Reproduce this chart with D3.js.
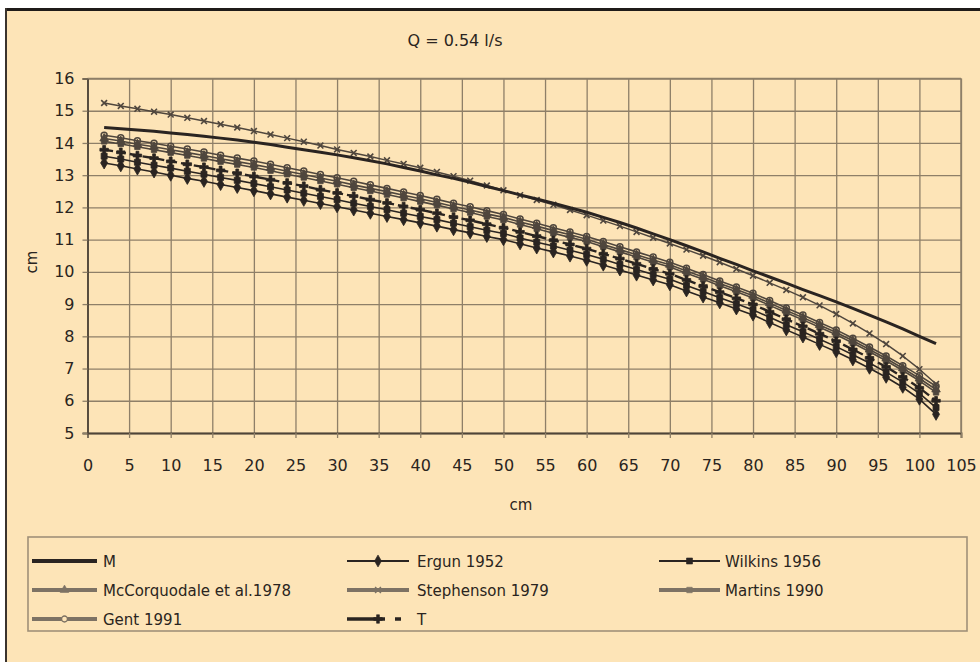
<!DOCTYPE html>
<html><head><meta charset="utf-8">
<script src="https://cdn.jsdelivr.net/npm/d3@7"></script>
<style>
body{margin:0;background:#fff;}
svg{display:block;}
text{font-family:"DejaVu Sans",sans-serif;fill:#2a2420;}
</style>
</head><body>
<svg id="chart" width="980" height="662"></svg>
<script>
// ---- data ----
const xValues = [2,4,6,8,10,12,14,16,18,20,22,24,26,28,30,32,34,36,38,40,42,44,46,48,50,52,54,56,58,60,62,64,66,68,70,72,74,76,78,80,82,84,86,88,90,92,94,96,98,100,102];
const valuesM = [14.48,14.44,14.40,14.36,14.31,14.26,14.21,14.15,14.09,14.02,13.95,13.87,13.79,13.71,13.63,13.54,13.45,13.35,13.24,13.13,13.01,12.90,12.78,12.65,12.52,12.39,12.26,12.13,11.99,11.85,11.69,11.53,11.36,11.18,11.00,10.81,10.62,10.42,10.23,10.03,9.84,9.65,9.45,9.26,9.07,8.87,8.66,8.45,8.23,8.00,7.77];
const valuesErgun = [13.38,13.29,13.19,13.10,13.00,12.90,12.81,12.71,12.62,12.52,12.42,12.32,12.22,12.12,12.02,11.92,11.82,11.72,11.62,11.52,11.42,11.31,11.21,11.10,11.00,10.87,10.74,10.62,10.49,10.36,10.21,10.06,9.90,9.75,9.60,9.41,9.22,9.04,8.85,8.66,8.43,8.20,7.98,7.75,7.52,7.27,7.01,6.73,6.42,6.05,5.58];
const valuesWilkins = [13.59,13.50,13.40,13.31,13.22,13.12,13.03,12.93,12.84,12.74,12.64,12.54,12.44,12.34,12.24,12.13,12.03,11.93,11.82,11.72,11.62,11.51,11.40,11.29,11.19,11.05,10.92,10.80,10.67,10.54,10.39,10.23,10.07,9.92,9.77,9.58,9.39,9.20,9.01,8.82,8.59,8.36,8.14,7.91,7.68,7.43,7.17,6.89,6.58,6.23,5.79];
const valuesMcCorquodale = [14.14,14.06,13.96,13.88,13.79,13.70,13.61,13.51,13.42,13.33,13.23,13.12,13.02,12.91,12.81,12.70,12.59,12.49,12.38,12.27,12.15,12.03,11.92,11.80,11.69,11.55,11.42,11.28,11.15,11.01,10.85,10.69,10.53,10.37,10.22,10.03,9.84,9.64,9.45,9.26,9.03,8.80,8.58,8.35,8.12,7.86,7.59,7.31,7.01,6.69,6.35];
const valuesStephenson = [15.24,15.15,15.06,14.97,14.88,14.78,14.68,14.58,14.48,14.37,14.26,14.15,14.04,13.92,13.80,13.69,13.58,13.46,13.35,13.23,13.10,12.97,12.83,12.68,12.53,12.38,12.23,12.08,11.92,11.76,11.59,11.42,11.24,11.06,10.88,10.69,10.50,10.30,10.09,9.88,9.66,9.44,9.21,8.96,8.69,8.40,8.09,7.76,7.39,6.98,6.52];
const valuesMartins = [14.05,13.97,13.88,13.79,13.70,13.61,13.52,13.42,13.33,13.24,13.14,13.03,12.93,12.82,12.72,12.61,12.51,12.40,12.29,12.18,12.07,11.95,11.84,11.72,11.61,11.47,11.34,11.20,11.07,10.94,10.78,10.62,10.46,10.30,10.15,9.96,9.77,9.57,9.38,9.19,8.96,8.73,8.51,8.28,8.05,7.79,7.52,7.24,6.94,6.62,6.26];
const valuesGent = [14.24,14.16,14.07,13.99,13.90,13.81,13.72,13.62,13.53,13.44,13.34,13.23,13.13,13.02,12.92,12.81,12.70,12.59,12.48,12.37,12.25,12.13,12.02,11.90,11.78,11.64,11.51,11.37,11.24,11.10,10.94,10.78,10.62,10.46,10.30,10.11,9.92,9.72,9.53,9.34,9.11,8.88,8.66,8.43,8.20,7.94,7.67,7.39,7.09,6.78,6.45];
const valuesT = [13.79,13.71,13.61,13.53,13.43,13.34,13.25,13.15,13.06,12.96,12.86,12.76,12.66,12.55,12.45,12.35,12.24,12.14,12.03,11.93,11.82,11.70,11.60,11.48,11.37,11.24,11.11,10.98,10.85,10.72,10.56,10.41,10.25,10.09,9.94,9.75,9.56,9.37,9.18,8.99,8.76,8.53,8.31,8.08,7.85,7.59,7.33,7.05,6.74,6.40,6.00];

const seriesNames = ["M","Ergun 1952","Wilkins 1956","McCorquodale et al.1978","Stephenson 1979","Martins 1990","Gent 1991","T"];
const xTicks = [0,5,10,15,20,25,30,35,40,45,50,55,60,65,70,75,80,85,90,95,100,105];
const yTicks = [5,6,7,8,9,10,11,12,13,14,15,16];
const titleText = "Q = 0.54 l/s";
const xTitle = "cm";
const yTitle = "cm";

// ---- style ----
const DARK = "#2a2421", GRAY = "#4f463d", LGRAY = "#7d7264", BG = "#fde4b7", GRID = "#8e7f68";
const styles = {
  "M":{values:valuesM,color:DARK,width:3,symbol:null,legendWidth:4},
  "Ergun 1952":{values:valuesErgun,color:DARK,width:1.6,symbol:d3.symbolDiamond,size:42,legendWidth:2},
  "Wilkins 1956":{values:valuesWilkins,color:DARK,width:1.6,symbol:d3.symbolSquare,size:36,legendWidth:2},
  "McCorquodale et al.1978":{values:valuesMcCorquodale,color:GRAY,legendColor:LGRAY,width:1.6,symbol:d3.symbolTriangle,size:32,legendWidth:4},
  "Stephenson 1979":{values:valuesStephenson,color:GRAY,legendColor:LGRAY,width:1.5,symbol:d3.symbolX,size:24,stroke:true,legendWidth:4},
  "Martins 1990":{values:valuesMartins,color:GRAY,legendColor:LGRAY,width:1.6,symbol:d3.symbolSquare,size:30,legendWidth:4},
  "Gent 1991":{values:valuesGent,color:GRAY,legendColor:LGRAY,width:1.6,symbol:d3.symbolCircle,size:28,hollow:true,legendWidth:4},
  "T":{values:valuesT,color:DARK,width:2.4,symbol:d3.symbolCross,size:40,dash:"9,4",legendWidth:3.5}
};

const svg = d3.select("#chart");
// frame
svg.append("rect").attr("x",0).attr("y",0).attr("width",980).attr("height",662).attr("fill","#fff");
svg.append("rect").attr("x",6).attr("y",10).attr("width",974).attr("height",652).attr("fill",BG);
svg.append("rect").attr("x",5).attr("y",8).attr("width",975).attr("height",3).attr("fill","#1f1b19");
svg.append("rect").attr("x",5).attr("y",8).attr("width",2).attr("height",654).attr("fill","#3a332d");

const x = d3.scaleLinear().domain([0,105]).range([87.5,961]);
const y = d3.scaleLinear().domain([5,16]).range([433,78.5]);

// grid
svg.append("g").attr("transform",`translate(0,${y(5)})`)
  .call(d3.axisBottom(x).tickValues(xTicks).tickSize(-(y(5)-y(16))).tickFormat(""))
  .call(g=>g.select(".domain").remove())
  .call(g=>g.selectAll("line").attr("stroke",GRID).attr("stroke-width",1.3));
svg.append("g").attr("transform",`translate(${x(0)},0)`)
  .call(d3.axisLeft(y).tickValues(yTicks).tickSize(-(x(105)-x(0))).tickFormat(""))
  .call(g=>g.select(".domain").remove())
  .call(g=>g.selectAll("line").attr("stroke",GRID).attr("stroke-width",1.3));

// axes
const xAxis = svg.append("g").attr("transform",`translate(0,${y(5)})`)
  .call(d3.axisBottom(x).tickValues(xTicks).tickSize(5).tickPadding(22).tickFormat(d3.format("d")));
xAxis.select(".domain").attr("stroke","#4e4438").attr("stroke-width",1.8);
xAxis.selectAll("line").attr("stroke",GRID).attr("stroke-width",1.3);
xAxis.selectAll("text").attr("font-size",16).attr("font-family","DejaVu Sans").attr("fill","#2a2420");

const yAxis = svg.append("g").attr("transform",`translate(${x(0)},0)`)
  .call(d3.axisLeft(y).tickValues(yTicks).tickSize(5).tickPadding(8).tickFormat(d3.format("d")));
yAxis.select(".domain").attr("stroke","#4e4438").attr("stroke-width",1.8);
yAxis.selectAll("line").attr("stroke",GRID).attr("stroke-width",1.3);
yAxis.selectAll("text").attr("font-size",16).attr("font-family","DejaVu Sans").attr("fill","#2a2420");

// right and top border of plot
svg.append("line").attr("x1",x(105)).attr("x2",x(105)).attr("y1",y(16)).attr("y2",y(5)).attr("stroke",GRID).attr("stroke-width",1.5);
svg.append("line").attr("x1",x(0)).attr("x2",x(105)).attr("y1",y(16)).attr("y2",y(16)).attr("stroke",GRID).attr("stroke-width",1.5);

// titles
svg.append("text").attr("x",455).attr("y",46).attr("text-anchor","middle").attr("font-size",16).text(titleText);
svg.append("text").attr("x",521).attr("y",510).attr("text-anchor","middle").attr("font-size",15).text(xTitle);
svg.append("text").attr("transform","translate(37,262) rotate(-90)").attr("text-anchor","middle").attr("font-size",15).text(yTitle);

// series
const line = d3.line().x((d,i)=>x(xValues[i])).y(d=>y(d));
const drawOrder = ["Gent 1991","Martins 1990","McCorquodale et al.1978","Stephenson 1979","T","Wilkins 1956","Ergun 1952","M"];
drawOrder.forEach(name=>{
  const s = styles[name];
  svg.append("path").datum(s.values).attr("d",line).attr("fill","none")
    .attr("stroke",s.color).attr("stroke-width",s.width)
    .attr("stroke-dasharray",s.dash||null).attr("stroke-linejoin","round");
  if(s.symbol){
    const sym = d3.symbol().type(s.symbol).size(s.size);
    svg.append("g").selectAll("path").data(s.values).join("path")
      .attr("transform",(d,i)=>`translate(${x(xValues[i])},${y(d)})`)
      .attr("d",sym)
      .attr("fill",s.stroke||s.hollow?"none":s.color)
      .attr("stroke",s.color).attr("stroke-width",s.stroke?1.6:(s.hollow?1.5:0.8));
  }
});

// legend
svg.append("rect").attr("x",28).attr("y",537).attr("width",939).attr("height",94)
  .attr("fill","none").attr("stroke","#a09078").attr("stroke-width",1.6);
const colX0 = [32,347,659], colX1 = [97,409,720], colTx = [103,417,725], rowY = [561,590,619];
seriesNames.forEach((name,k)=>{
  const s = styles[name];
  const col = s.legendColor||s.color;
  const c = k%3, r = Math.floor(k/3);
  const g = svg.append("g");
  const yy = rowY[r];
  g.append("line").attr("x1",colX0[c]).attr("x2",colX1[c]).attr("y1",yy).attr("y2",yy)
    .attr("stroke",col).attr("stroke-width",s.legendWidth)
    .attr("stroke-dasharray",name==="T"?"38,10,6,100":null);
  if(s.symbol){
    const mx = name==="T" ? colX0[c]+31 : (colX0[c]+colX1[c])/2;
    g.append("path").attr("transform",`translate(${mx},${yy})`)
      .attr("d",d3.symbol().type(s.symbol).size(s.size))
      .attr("fill",s.stroke||s.hollow?(s.hollow?BG:"none"):col)
      .attr("stroke",col).attr("stroke-width",s.stroke?1.5:(s.hollow?1.3:0.6));
  }
  g.append("text").attr("x",colTx[c]).attr("y",yy+6).attr("font-size",15).text(name);
});
</script>
</body></html>
